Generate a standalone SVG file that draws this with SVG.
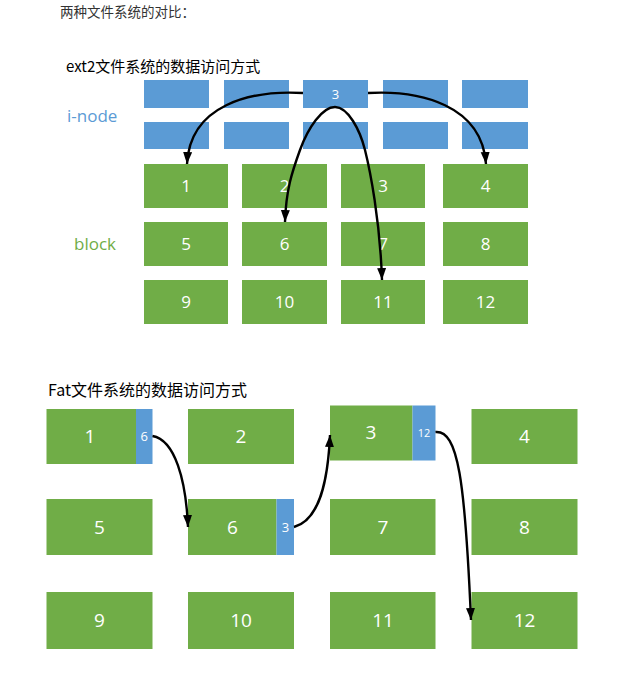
<svg xmlns="http://www.w3.org/2000/svg" width="642" height="682" viewBox="0 0 642 682">
<defs>
<marker id="ah" markerUnits="userSpaceOnUse" markerWidth="13" markerHeight="10" refX="12" refY="4.5" orient="auto">
<path d="M0,0 L12,4.5 L0,9 z" fill="#000"/>
</marker>
<style>
.g{fill:#70ad47}
.b{fill:#5b9bd5}
.t{font-family:"Open Sans","Noto Sans",sans-serif;fill:#fff;text-anchor:middle}
.n1{font-size:17px}
.n2{font-size:19px}
.s1{font-size:13px}
.s2{font-size:11px}
.title{font-family:"Noto Sans CJK SC","Noto Sans",sans-serif}
.c{fill:none;stroke:#000;stroke-width:2.4;marker-end:url(#ah)}
</style>
</defs>
<rect width="642" height="682" fill="#fff"/>
<text class="title" x="60" y="16.5" font-size="13.5" fill="#333">两种文件系统的对比：</text>
<text class="title" x="66" y="71.5" font-size="15" fill="#000">ext2文件系统的数据访问方式</text>
<text x="67" y="121.5" font-family="'Open Sans','Noto Sans',sans-serif" font-size="17" fill="#5b9bd5">i-node</text>
<text x="74" y="250" font-family="'Open Sans','Noto Sans',sans-serif" font-size="17" fill="#70ad47">block</text>

<g id="inode-row1">
<rect class="b" x="144" y="80" width="65" height="28"/>
<rect class="b" x="224" y="80" width="65" height="28"/>
<rect class="b" x="383" y="80" width="65" height="28"/>
<rect class="b" x="462" y="80" width="66" height="28"/>
</g>
<g id="inode-3">
<rect class="b" x="303" y="80" width="65" height="28"/>
<text class="t s1" x="335.5" y="99">3</text>
</g>
<g id="inode-row2">
<rect class="b" x="144" y="122" width="65" height="27"/>
<rect class="b" x="224" y="122" width="65" height="27"/>
<rect class="b" x="303" y="122" width="65" height="27"/>
<rect class="b" x="383" y="122" width="65" height="27"/>
<rect class="b" x="462" y="122" width="66" height="27"/>
</g>

<g id="ext2-block-1"><rect class="g" x="144" y="164" width="84" height="44"/><text class="t n1" x="186" y="192">1</text></g>
<g id="ext2-block-2"><rect class="g" x="242" y="164" width="85" height="44"/><text class="t n1" x="284.5" y="192">2</text></g>
<g id="ext2-block-3"><rect class="g" x="341" y="164" width="84" height="44"/><text class="t n1" x="383" y="192">3</text></g>
<g id="ext2-block-4"><rect class="g" x="443" y="164" width="85" height="44"/><text class="t n1" x="485.5" y="192">4</text></g>
<g id="ext2-block-5"><rect class="g" x="144" y="222" width="84" height="44"/><text class="t n1" x="186" y="250">5</text></g>
<g id="ext2-block-6"><rect class="g" x="242" y="222" width="85" height="44"/><text class="t n1" x="284.5" y="250">6</text></g>
<g id="ext2-block-7"><rect class="g" x="341" y="222" width="84" height="44"/><text class="t n1" x="383" y="250">7</text></g>
<g id="ext2-block-8"><rect class="g" x="443" y="222" width="85" height="44"/><text class="t n1" x="485.5" y="250">8</text></g>
<g id="ext2-block-9"><rect class="g" x="144" y="280" width="84" height="44"/><text class="t n1" x="186" y="308">9</text></g>
<g id="ext2-block-10"><rect class="g" x="242" y="280" width="85" height="44"/><text class="t n1" x="284.5" y="308">10</text></g>
<g id="ext2-block-11"><rect class="g" x="341" y="280" width="84" height="44"/><text class="t n1" x="383" y="308">11</text></g>
<g id="ext2-block-12"><rect class="g" x="443" y="280" width="85" height="44"/><text class="t n1" x="485.5" y="308">12</text></g>

<text class="title" x="48" y="396" font-size="16" fill="#000">Fat文件系统的数据访问方式</text>

<g id="fat-block-1"><rect class="g" x="46.5" y="409" width="89.5" height="55"/><rect class="b" x="136" y="409" width="16.5" height="55"/><text class="t n2" x="90" y="443">1</text><text class="t s1" x="144.2" y="441">6</text></g>
<g id="fat-block-2"><rect class="g" x="188" y="409" width="106" height="55"/><text class="t n2" x="241" y="443">2</text></g>
<g id="fat-block-3"><rect class="g" x="330" y="405.5" width="82.5" height="55"/><rect class="b" x="412.5" y="405.5" width="23" height="55"/><text class="t n2" x="371" y="439">3</text><text class="t s2" x="424" y="437">12</text></g>
<g id="fat-block-4"><rect class="g" x="471.5" y="409" width="106" height="55"/><text class="t n2" x="524.5" y="443">4</text></g>
<g id="fat-block-5"><rect class="g" x="46.5" y="499" width="106" height="56"/><text class="t n2" x="99.5" y="533.5">5</text></g>
<g id="fat-block-6"><rect class="g" x="188" y="499" width="88.5" height="56"/><rect class="b" x="276.5" y="499" width="17.5" height="56"/><text class="t n2" x="232.5" y="533.5">6</text><text class="t s1" x="285.5" y="531.5">3</text></g>
<g id="fat-block-7"><rect class="g" x="330" y="499" width="105.5" height="56"/><text class="t n2" x="383" y="533.5">7</text></g>
<g id="fat-block-8"><rect class="g" x="471.5" y="499" width="106" height="56"/><text class="t n2" x="524.5" y="533.5">8</text></g>
<g id="fat-block-9"><rect class="g" x="46.5" y="592" width="106" height="57"/><text class="t n2" x="99.5" y="627">9</text></g>
<g id="fat-block-10"><rect class="g" x="188" y="592" width="106" height="57"/><text class="t n2" x="241" y="627">10</text></g>
<g id="fat-block-11"><rect class="g" x="330" y="592" width="105.5" height="57"/><text class="t n2" x="383" y="627">11</text></g>
<g id="fat-block-12"><rect class="g" x="471.5" y="592" width="106" height="57"/><text class="t n2" x="524.5" y="627">12</text></g>

<g id="connectors">
<path class="c" d="M303,93 C250,90 190,105 187,164"/>
<path class="c" d="M368,93 C420,90 482,105 486,164"/>
<path class="c" d="M335,107 C322,107 308,128 300,150 S286,190 285,222"/>
<path class="c" d="M335,107 C348,107 360,130 365,150 S380,220 382,280"/>
<path class="c" d="M152.5,436 C175,440 186,480 188,527"/>
<path class="c" d="M294,527 C320,520 328,480 330,435"/>
<path class="c" d="M435.5,432 C458,430 465,480 471,620"/>
</g>
</svg>
